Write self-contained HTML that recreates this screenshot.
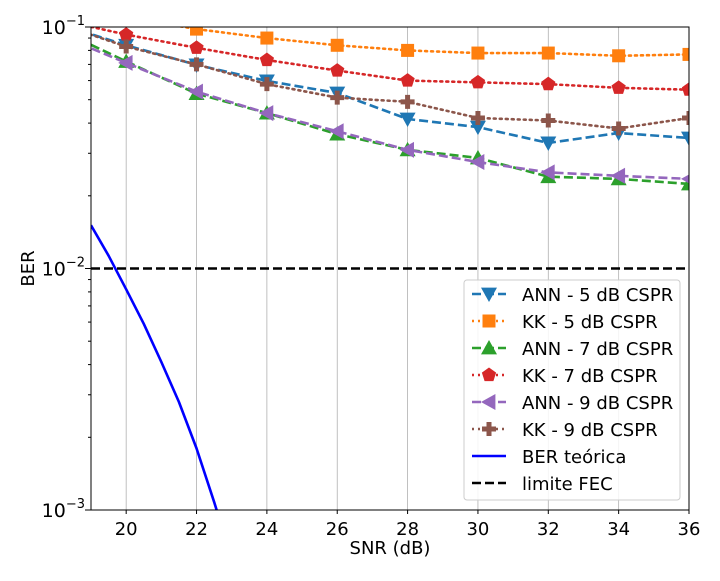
<!DOCTYPE html>
<html><head><meta charset="utf-8"><style>
body{margin:0;background:#fff;}
svg text{font-family:"DejaVu Sans","Liberation Sans",sans-serif;}
</style></head><body>
<svg id="chart" width="720" height="576" xmlns="http://www.w3.org/2000/svg"></svg>
<script>
const xs = [18,20,22,24,26,28,30,32,34,36];
const ann5 = [0.104,0.084,0.0697,0.0598,0.0533,0.0416,0.0385,0.0331,0.0364,0.0347];
const kk5 = [0.12,0.11,0.098,0.090,0.084,0.080,0.078,0.078,0.076,0.077];
const ann7 = [0.099,0.072,0.053,0.044,0.036,0.031,0.0287,0.024,0.0235,0.0224];
const kk7 = [0.108,0.093,0.082,0.073,0.066,0.060,0.059,0.058,0.056,0.055];
const ann9 = [0.094,0.071,0.054,0.044,0.037,0.031,0.0276,0.025,0.0242,0.0235];
const kk9 = [0.104,0.083,0.070,0.058,0.051,0.049,0.042,0.041,0.038,0.042];
const theoX = [19,19.5,20,20.5,21,21.5,22,22.5,23];
const theoY = [0.0151,0.0113,0.0082,0.0059,0.0041,0.0028,0.0018,0.00108,0.00063];
const fecY = 0.01;
const xTicks = [20,22,24,26,28,30,32,34,36];
const labels = ["ANN - 5 dB CSPR","KK - 5 dB CSPR","ANN - 7 dB CSPR","KK - 7 dB CSPR","ANN - 9 dB CSPR","KK - 9 dB CSPR","BER teórica","limite FEC"];

const L=91,R=689,T=27,B=510;
const X=v=>L+(v-19)/(36-19)*(R-L);
const Y=v=>T+(-1-Math.log10(v))/2*(B-T);
const svg=document.getElementById('chart');
const NS='http://www.w3.org/2000/svg';
function el(tag,attrs,parent){const e=document.createElementNS(NS,tag);for(const k in attrs)e.setAttribute(k,attrs[k]);(parent||svg).appendChild(e);return e;}
const defs=el('defs',{});const cp=el('clipPath',{id:'c'},defs);el('rect',{x:L,y:T,width:R-L,height:B-T},cp);

xTicks.forEach(t=>{const g=el('line',{x1:X(t),x2:X(t),y1:T,y2:B,stroke:'#b0b0b0','stroke-width':0.8});

});

function marker(type,x,y,c,parent){
  let e;const s=8;
  if(type==='v')e=el('polygon',{points:`${x-s},${y-s*0.8} ${x+s},${y-s*0.8} ${x},${y+s}`,fill:c},parent);
  else if(type==='s')e=el('rect',{x:x-6.5,y:y-6.5,width:13,height:13,fill:c},parent);
  else if(type==='^')e=el('polygon',{points:`${x-s},${y+s*0.8} ${x+s},${y+s*0.8} ${x},${y-s}`,fill:c},parent);
  else if(type==='<')e=el('polygon',{points:`${x+s*0.8},${y-s} ${x+s*0.8},${y+s} ${x-s},${y}`,fill:c},parent);
  else if(type==='p'){let p=[];for(let i=0;i<5;i++){const a=-Math.PI/2+i*2*Math.PI/5;p.push((x+7.5*Math.cos(a))+','+(y+7.5*Math.sin(a)));}e=el('polygon',{points:p.join(' '),fill:c},parent);}
  else if(type==='P')e=el('path',{d:`M${x-2.5},${y-7}h5v4.5h4.5v5h-4.5v4.5h-5v-4.5h-4.5v-5h4.5z`,fill:c},parent);
  return e;
}
const series=[[ann5,'#1f77b4','v','9,4'],[kk5,'#ff7f0e','s','2,4'],[ann7,'#2ca02c','^','9,4'],[kk7,'#d62728','p','2,4'],[ann9,'#9467bd','<','9,4'],[kk9,'#8c564b','P','2,4']];
const names=['ann-5db-series','kk-5db-series','ann-7db-series','kk-7db-series','ann-9db-series','kk-9db-series'];
const pg=el('g',{'clip-path':'url(#c)'});
series.forEach((s,i)=>{
  const g=el('g',{},pg);
  
  
  el('polyline',{points:xs.map((x,j)=>X(x)+','+Y(s[0][j])).join(' '),fill:'none',stroke:s[1],'stroke-width':2.6,'stroke-dasharray':s[3],'stroke-linecap':s[3]==='2,4'?'round':'butt'},g);
  xs.forEach((x,j)=>{const m=marker(s[2],X(x),Y(s[0][j]),s[1],g);
    
    });
});
const th=el('polyline',{points:theoX.map((x,j)=>X(x)+','+Y(theoY[j])).join(' '),fill:'none',stroke:'#0000ff','stroke-width':2.6,'stroke-linejoin':'round'},pg);


const fec=el('line',{x1:L,x2:R,y1:Y(fecY),y2:Y(fecY),stroke:'#000','stroke-width':2.6,'stroke-dasharray':'9,4'},pg);



const fr=el('rect',{x:L,y:T,width:R-L,height:B-T,fill:'none',stroke:'#000','stroke-width':1});


xTicks.forEach(t=>{el('line',{x1:X(t),x2:X(t),y1:B,y2:B+4,stroke:'#000'});
  const tx=el('text',{x:X(t),y:B+25,'font-size':18,'text-anchor':'middle'});tx.textContent=t;
  
  });
[-1,-2,-3].forEach(e=>{const y=Y(Math.pow(10,e));el('line',{x1:L-6,x2:L,y1:y,y2:y,stroke:'#000'});
  const tx=el('text',{x:L-6,y:y+7,'font-size':19,'text-anchor':'end'});
  tx.innerHTML='10<tspan dy="-9" font-size="13">−'+(-e)+'</tspan>';
  
  });
for(let d=-3;d<-1;d++)for(let k=2;k<10;k++){const y=Y(k*Math.pow(10,d));el('line',{x1:L-3,x2:L,y1:y,y2:y,stroke:'#000'});}
const xl=el('text',{x:(L+R)/2,y:554,'font-size':18,'text-anchor':'middle'});xl.textContent='SNR (dB)';


const yl=el('text',{x:34,y:(T+B)/2,'font-size':18,'text-anchor':'middle',transform:`rotate(-90 34 ${(T+B)/2})`});yl.textContent='BER';



const lg=el('g',{});


el('rect',{x:464,y:280,width:216,height:220,rx:3,fill:'#fff','fill-opacity':0.85,stroke:'#ccc'},lg);
const styles=series.map(s=>[s[1],s[3],s[2]]).concat([['#0000ff',null,null],['#000','9,4',null]]);
labels.forEach((lab,i)=>{
  const y=294+i*27;
  const e=el('g',{},lg);
  
  
  const st=styles[i];
  el('line',{x1:472,x2:506,y1:y,y2:y,stroke:st[0],'stroke-width':2.6,'stroke-dasharray':st[1]||'none'},e);
  if(st[2])marker(st[2],489,y,st[0],e);
  const t=el('text',{x:522,y:y+7,'font-size':18},e);t.textContent=lab;
});
</script>
</body></html>
